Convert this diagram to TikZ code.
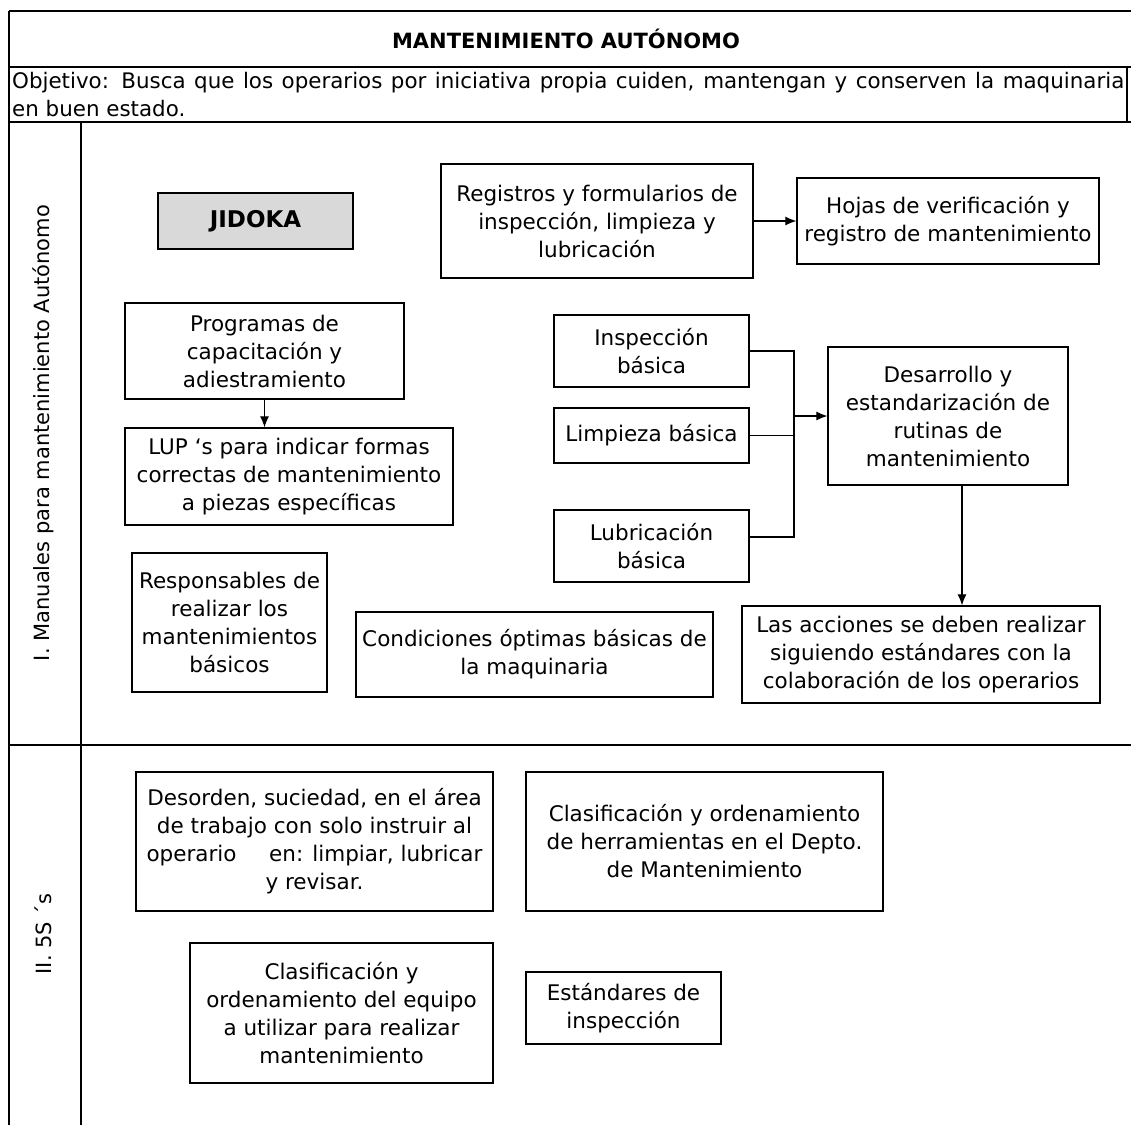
\documentclass[tikz,border=0pt]{standalone}
\usepackage{fontspec}
\setmainfont{DejaVu Sans}
\usetikzlibrary{arrows.meta}
\newcommand\boxfont{\fontsize{21.5}{28}\selectfont}
\begin{document}
\begin{tikzpicture}[x=1pt,y=-1pt,
  frame/.style={line width=1.4pt},
  card/.style={draw, line width=1.3pt, align=center, inner sep=0pt, font=\boxfont},
  link/.style={line width=1.1pt},
  arr/.style={line width=1.1pt, -{Latex[length=11pt,width=9pt]}}]
\useasboundingbox (0,0) rectangle (1131,1125);

% table frame
\draw[frame] (9,11) -- (1131,11);
\draw[frame] (9,67) -- (1131,67);
\draw[frame] (9,122) -- (1131,122);
\draw[line width=2pt] (9,745) -- (1131,745);
\draw[frame] (9,11) -- (9,1125);
\draw[frame] (81,122) -- (81,1125);
\draw[frame] (1127,67) -- (1127,122);

% header
\node[font=\fontsize{21}{25}\selectfont\bfseries] (title) at (566,39) {MANTENIMIENTO AUTÓNOMO};
\node[anchor=base west, inner sep=0pt, font=\fontsize{21.4}{25}\selectfont] (obj1) at (12,88)
  {\makebox[1112pt][s]{Objetivo: Busca que los operarios por iniciativa propia cuiden, mantengan y conserven la maquinaria}};
\node[anchor=base west, inner sep=0pt, font=\fontsize{21.4}{25}\selectfont] (obj2) at (12,116)
  {en buen estado.};

% lane labels
\node[rotate=90, font=\fontsize{21}{25}\selectfont] (laneI) at (43,433) {I. Manuales para mantenimiento Autónomo};
\node[rotate=90, font=\fontsize{21}{25}\selectfont] (laneII) at (43,934) {II. 5S ´s};

% lane I
\node[card, fill={rgb,255:red,217;green,217;blue,217}, minimum width=195pt, minimum height=56pt,
  font=\fontsize{23}{28}\selectfont\bfseries] (jid) at (255.5,221) {JIDOKA};
\node[card, minimum width=312pt, minimum height=114pt] (reg) at (597,221)
  {Registros y formularios de\\inspección, limpieza y\\lubricación};
\node[card, minimum width=302pt, minimum height=86pt] (hoj) at (948,221)
  {Hojas de verificación y\\registro de mantenimiento};
\node[card, minimum width=279pt, minimum height=96pt] (pro) at (264.5,351)
  {Programas de\\capacitación y\\adiestramiento};
\node[card, minimum width=328pt, minimum height=97pt] (lup) at (289,476.5)
  {LUP ‘s para indicar formas\\correctas de mantenimiento\\a piezas específicas};
\node[card, minimum width=195pt, minimum height=72pt] (ins) at (651.5,351)
  {Inspección\\básica};
\node[card, minimum width=195pt, minimum height=55pt] (lim) at (651.5,435.5)
  {Limpieza básica};
\node[card, minimum width=195pt, minimum height=72pt] (lub) at (651.5,546)
  {Lubricación\\básica};
\node[card, minimum width=240pt, minimum height=138pt] (des) at (948,416)
  {Desarrollo y\\estandarización de\\rutinas de\\mantenimiento};
\node[card, minimum width=195pt, minimum height=139pt] (res) at (229.5,622.5)
  {Responsables de\\realizar los\\mantenimientos\\básicos};
\node[card, minimum width=357pt, minimum height=85pt] (con) at (534.5,654.5)
  {Condiciones óptimas básicas de\\la maquinaria};
\node[card, minimum width=358pt, minimum height=97pt] (acc) at (921,654.5)
  {Las acciones se deben realizar\\siguiendo estándares con la\\colaboración de los operarios};

% lane II
\node[card, minimum width=357pt, minimum height=139pt] (dso) at (314.5,841.5)
  {Desorden, suciedad, en el área\\de trabajo con solo instruir al\\operario\hspace{1.2em} en: limpiar, lubricar\\y revisar.};
\node[card, minimum width=357pt, minimum height=139pt] (her) at (704.5,841.5)
  {Clasificación y ordenamiento\\de herramientas en el Depto.\\de Mantenimiento};
\node[card, minimum width=303pt, minimum height=140pt] (equ) at (341.5,1013)
  {Clasificación y\\ordenamiento del equipo\\a utilizar para realizar\\mantenimiento};
\node[card, minimum width=195pt, minimum height=72pt] (est) at (623.5,1008)
  {Estándares de\\inspección};

% connectors
\draw[arr] (reg.east) -- (hoj.west);
\draw[arr] (pro.south) -- (pro.south |- lup.north);
\coordinate (bus) at (794,416);
\draw[link] (ins.east) -| (bus);
\draw[link] (lim.east) -- (lim.east -| bus);
\draw[link] ([yshift=9pt]lub.east) -| (bus);
\draw[arr] (bus) -- (des.west);
\draw[arr] ([xshift=14pt]des.south) -- ([xshift=14pt]des.south |- acc.north);
\end{tikzpicture}
\end{document}
